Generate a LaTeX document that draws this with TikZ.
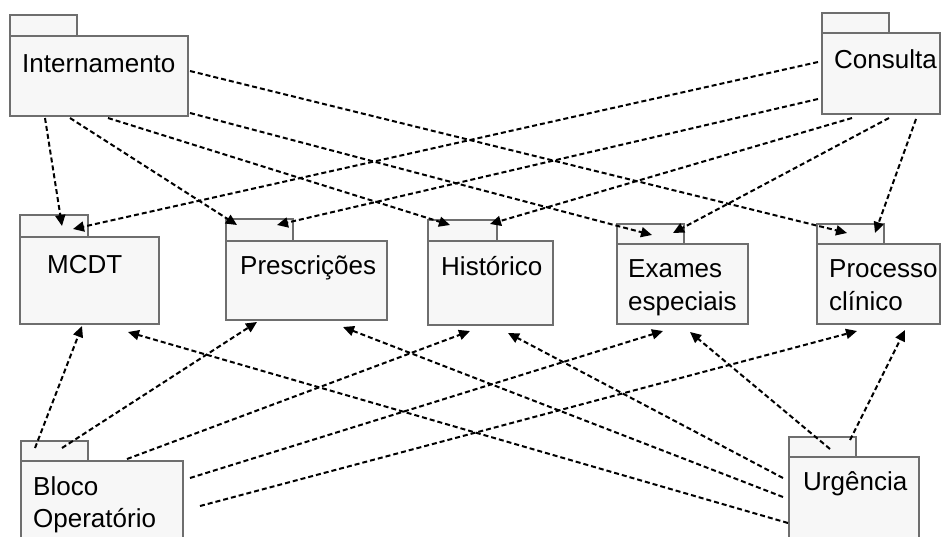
\documentclass[tikz,border=0pt]{standalone}
\usepackage{fontspec}
\setmainfont{Liberation Sans}
\usetikzlibrary{arrows.meta,calc}
\definecolor{pkgfill}{HTML}{F7F7F7}
\definecolor{pkgline}{HTML}{6E6E6E}
\begin{document}
\begin{tikzpicture}[x=1pt,y=-1pt,
  pkgbox/.style={draw=pkgline, fill=pkgfill, line width=1.4pt, rectangle,
    inner sep=0pt, outer sep=0pt},
  pkglabel/.style={anchor=base west, inner sep=0pt,
    font=\fontsize{26}{31}\selectfont},
  dep/.style={draw=black, line width=2pt, dash pattern=on 5pt off 3pt,
    -{Triangle[length=11pt,width=10pt]}}]
\useasboundingbox (0,0) rectangle (941,536);

% ---- packages: tab + body ----
% Internamento
\node[pkgbox, minimum width=67, minimum height=21] (intT) at (43.5,25.5) {};
\node[pkgbox, minimum width=178, minimum height=80] (int) at (99,76) {};
\node[pkglabel] (intL) at (22,72) {Internamento};
% Consulta
\node[pkgbox, minimum width=67, minimum height=20] (conT) at (855.5,23) {};
\node[pkgbox, minimum width=118, minimum height=81] (con) at (881,73.5) {};
\node[pkglabel] (conL) at (834,68) {Consulta};
% MCDT
\node[pkgbox, minimum width=68, minimum height=22] (mcdtT) at (54,226) {};
\node[pkgbox, minimum width=139, minimum height=87] (mcdt) at (89.5,280.5) {};
\node[pkglabel] (mcdtL) at (47,273) {MCDT};
% Prescricoes
\node[pkgbox, minimum width=67, minimum height=22] (preT) at (259.5,230) {};
\node[pkgbox, minimum width=161, minimum height=79] (pre) at (306.5,280.5) {};
\node[pkglabel] (preL) at (240,274) {Prescrições};
% Historico
\node[pkgbox, minimum width=69, minimum height=21] (hisT) at (462.5,230.5) {};
\node[pkgbox, minimum width=125, minimum height=84] (his) at (490.5,283) {};
\node[pkglabel] (hisL) at (441,275) {Histórico};
% Exames especiais
\node[pkgbox, minimum width=67, minimum height=20] (exaT) at (650.5,234) {};
\node[pkgbox, minimum width=131, minimum height=80] (exa) at (682.5,284) {};
\node[pkglabel] (exaL1) at (628,277) {Exames};
\node[pkglabel] (exaL2) at (628,310) {especiais};
% Processo clinico
\node[pkgbox, minimum width=67, minimum height=20] (proT) at (850.5,234) {};
\node[pkgbox, minimum width=123, minimum height=80] (pro) at (878.5,284) {};
\node[pkglabel] (proL1) at (829,277) {Processo};
\node[pkglabel] (proL2) at (829,310) {clínico};
% Bloco Operatorio
\node[pkgbox, minimum width=67, minimum height=20] (bloT) at (54.5,451) {};
\node[pkgbox, minimum width=162, minimum height=90] (blo) at (102,506) {};
\node[pkglabel] (bloL1) at (33,495) {Bloco};
\node[pkglabel] (bloL2) at (33,527) {Operatório};
% Urgencia
\node[pkgbox, minimum width=67, minimum height=20] (urgT) at (822.5,447) {};
\node[pkgbox, minimum width=130, minimum height=90] (urg) at (854,502) {};
\node[pkglabel] (urgL) at (803,490) {Urgência};

% ---- dependencies from Internamento ----
\draw[dep] ($(int.south west)+(35,2)$) -- ($(mcdtT.north west)+(42,11)$);
\draw[dep] ($(int.south west)+(60,2)$) -- ($(preT.north west)+(11,6)$);
\draw[dep] ($(int.south west)+(98,2)$) -- ($(hisT.north west)+(22,5)$);
\draw[dep] ($(int.south east)+(2,-3)$) -- ($(exaT.north west)+(35,11)$);
\draw[dep] ($(int.north east)+(2,35)$) -- ($(proT.north west)+(30,9)$);

% ---- dependencies from Consulta ----
\draw[dep] ($(con.north west)+(-4,29)$) -- ($(mcdtT.north west)+(53,14)$);
\draw[dep] ($(con.north west)+(-4,66)$) -- ($(preT.north west)+(51,6)$);
\draw[dep] ($(con.south west)+(30,4)$) -- ($(hisT.north west)+(62,4)$);
\draw[dep] ($(con.south west)+(67,4)$) -- ($(exaT.north west)+(56,9)$);
\draw[dep] ($(con.south west)+(94,5)$) -- ($(proT.north west)+(58,9)$);

% ---- dependencies from Bloco Operatorio ----
\draw[dep] ($(bloT.north west)+(14,7)$) -- ($(mcdt.south west)+(62,2)$);
\draw[dep] ($(bloT.north west)+(41,7)$) -- ($(pre.south west)+(31,2)$);
\draw[dep] ($(blo.north west)+(106,-2)$) -- ($(his.south west)+(42,6)$);
\draw[dep] ($(blo.north east)+(7,17)$) -- ($(exa.south west)+(46,7)$);
\draw[dep] ($(blo.north east)+(17,45)$) -- ($(pro.south west)+(40,7)$);

% ---- dependencies from Urgencia ----
\draw[dep] ($(urg.north west)+(-1,66)$) -- ($(mcdt.south west)+(108,8)$);
\draw[dep] ($(urg.north west)+(-6,40)$) -- ($(pre.south west)+(117,7)$);
\draw[dep] ($(urg.north west)+(-6,21)$) -- ($(his.south west)+(80,8)$);
\draw[dep] ($(urgT.north west)+(41,12)$) -- ($(exa.south west)+(73,8)$);
\draw[dep] ($(urgT.north west)+(61,3)$) -- ($(pro.south west)+(88,6)$);
\end{tikzpicture}
\end{document}
